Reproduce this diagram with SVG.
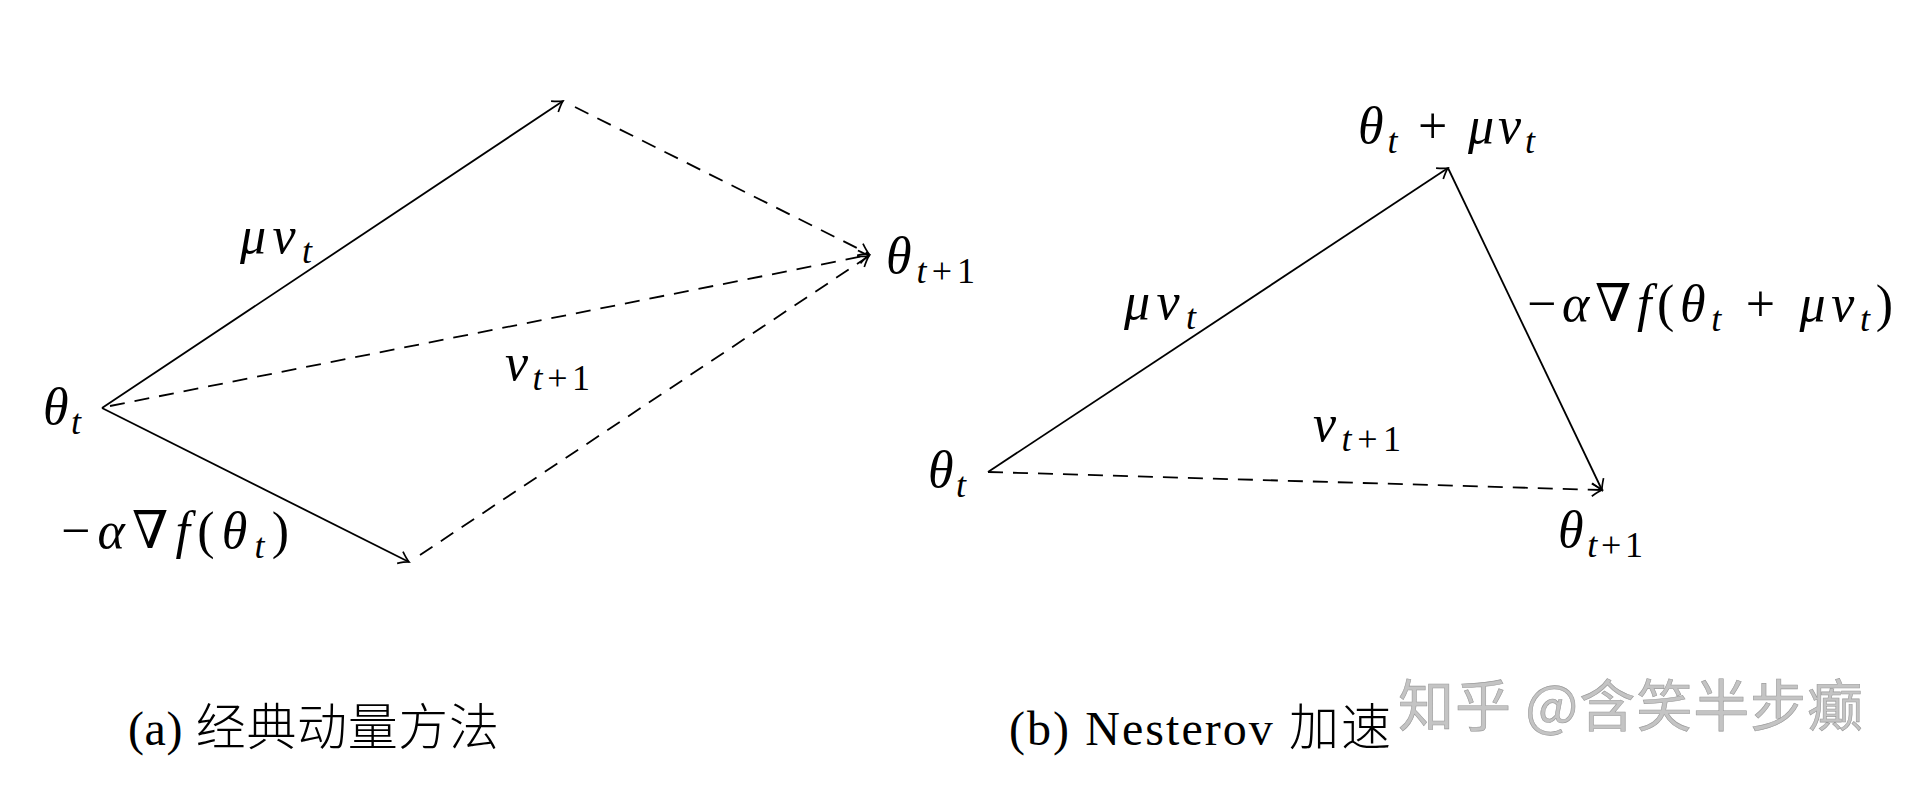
<svg xmlns="http://www.w3.org/2000/svg" width="1910" height="786" viewBox="0 0 1910 786">
<style>
.m{font-family:"Liberation Serif","DejaVu Serif",serif;font-size:52px;fill:#000}
.i{font-style:italic}
.s{font-size:36px}
.cap{font-family:"Liberation Serif","Noto Sans CJK SC",serif;font-size:48px;fill:#000}
.cj{font-family:"Noto Sans CJK SC",sans-serif;font-size:50px;font-weight:300}
.wm{font-family:"Noto Sans CJK SC",sans-serif;font-size:56px;fill:#c4c4c4;stroke:#9a9a9a;stroke-width:0.6}
.ln{fill:none;stroke:#000;stroke-width:1.8}
.d{stroke-dasharray:15 10}
</style>
<defs>
<marker id="arr" viewBox="-12 -8 14 16" refX="0" refY="0" markerWidth="14" markerHeight="16" orient="auto" markerUnits="userSpaceOnUse">
<path d="M-10,-6.5 Q-3.5,-1.5 0,0 Q-3.5,1.5 -10,6.5" fill="none" stroke="#000" stroke-width="1.7"/>
</marker>
</defs>
<rect width="1910" height="786" fill="#fff"/>
<g id="connectors">
<line class="ln" x1="102" y1="408" x2="563" y2="101" marker-end="url(#arr)"/>
<line class="ln" x1="102" y1="408" x2="409" y2="562" marker-end="url(#arr)"/>
<line class="ln d" x1="575" y1="107" x2="869" y2="254" marker-end="url(#arr)"/>
<line class="ln d" x1="110" y1="406" x2="869" y2="255" marker-end="url(#arr)"/>
<line class="ln d" x1="420" y1="555" x2="869" y2="256" marker-end="url(#arr)"/>
<line class="ln" x1="988" y1="472" x2="1448" y2="168" marker-end="url(#arr)"/>
<line class="ln" x1="1448" y1="168" x2="1602" y2="490" marker-end="url(#arr)"/>
<line class="ln d" x1="988" y1="472" x2="1602" y2="490" marker-end="url(#arr)"/>
</g>
<g id="a-theta-t"><text class="m" x="43" y="424" textLength="38" lengthAdjust="spacing"><tspan class="i">θ</tspan><tspan class="i s" dy="10">t</tspan></text></g>
<g id="a-mu-vt"><text class="m" x="240" y="253" textLength="72" lengthAdjust="spacing"><tspan class="i">μv</tspan><tspan class="i s" dy="10">t</tspan></text></g>
<g id="a-v-t1"><text class="m" x="505" y="380" textLength="85" lengthAdjust="spacing"><tspan class="i">v</tspan><tspan class="s" dy="10"><tspan class="i">t</tspan>+1</tspan></text></g>
<g id="a-theta-t1"><text class="m" x="886" y="273" textLength="89" lengthAdjust="spacing"><tspan class="i">θ</tspan><tspan class="s" dy="10"><tspan class="i">t</tspan>+1</tspan></text></g>
<g id="a-grad"><text class="m" x="61" y="548" textLength="228" lengthAdjust="spacing">−<tspan class="i">α</tspan>∇<tspan class="i">f</tspan>(<tspan class="i">θ</tspan><tspan class="i s" dy="10">t</tspan><tspan dy="-10">)</tspan></text></g>
<g id="b-theta-t"><text class="m" x="928" y="487" textLength="38" lengthAdjust="spacing"><tspan class="i">θ</tspan><tspan class="i s" dy="10">t</tspan></text></g>
<g id="b-top"><text class="m" x="1358" y="143" textLength="177" lengthAdjust="spacing"><tspan class="i">θ</tspan><tspan class="i s" dy="10">t</tspan><tspan dy="-10"> + </tspan><tspan class="i">μv</tspan><tspan class="i s" dy="10">t</tspan></text></g>
<g id="b-mu-vt"><text class="m" x="1124" y="319" textLength="72" lengthAdjust="spacing"><tspan class="i">μv</tspan><tspan class="i s" dy="10">t</tspan></text></g>
<g id="b-grad"><text class="m" x="1527" y="321" textLength="366" lengthAdjust="spacing">−<tspan class="i">α</tspan>∇<tspan class="i">f</tspan>(<tspan class="i">θ</tspan><tspan class="i s" dy="10">t</tspan><tspan dy="-10"> + </tspan><tspan class="i">μv</tspan><tspan class="i s" dy="10">t</tspan><tspan dy="-10">)</tspan></text></g>
<g id="b-v-t1"><text class="m" x="1313" y="441" textLength="88" lengthAdjust="spacing"><tspan class="i">v</tspan><tspan class="s" dy="10"><tspan class="i">t</tspan>+1</tspan></text></g>
<g id="b-theta-t1"><text class="m" x="1558" y="547" textLength="85" lengthAdjust="spacing"><tspan class="i">θ</tspan><tspan class="s" dy="10"><tspan class="i">t</tspan>+1</tspan></text></g>
<g id="caption-a"><text class="cap" x="128" y="745" textLength="371" lengthAdjust="spacing">(a) <tspan class="cj">经典动量方法</tspan></text></g>
<g id="caption-b"><text class="cap" x="1009" y="745" textLength="382" lengthAdjust="spacing">(b) Nesterov <tspan class="cj">加速</tspan></text></g>
<g id="watermark"><text class="wm" x="1398" y="726" textLength="465" lengthAdjust="spacing">知乎 @含笑半步癫</text></g>
</svg>
